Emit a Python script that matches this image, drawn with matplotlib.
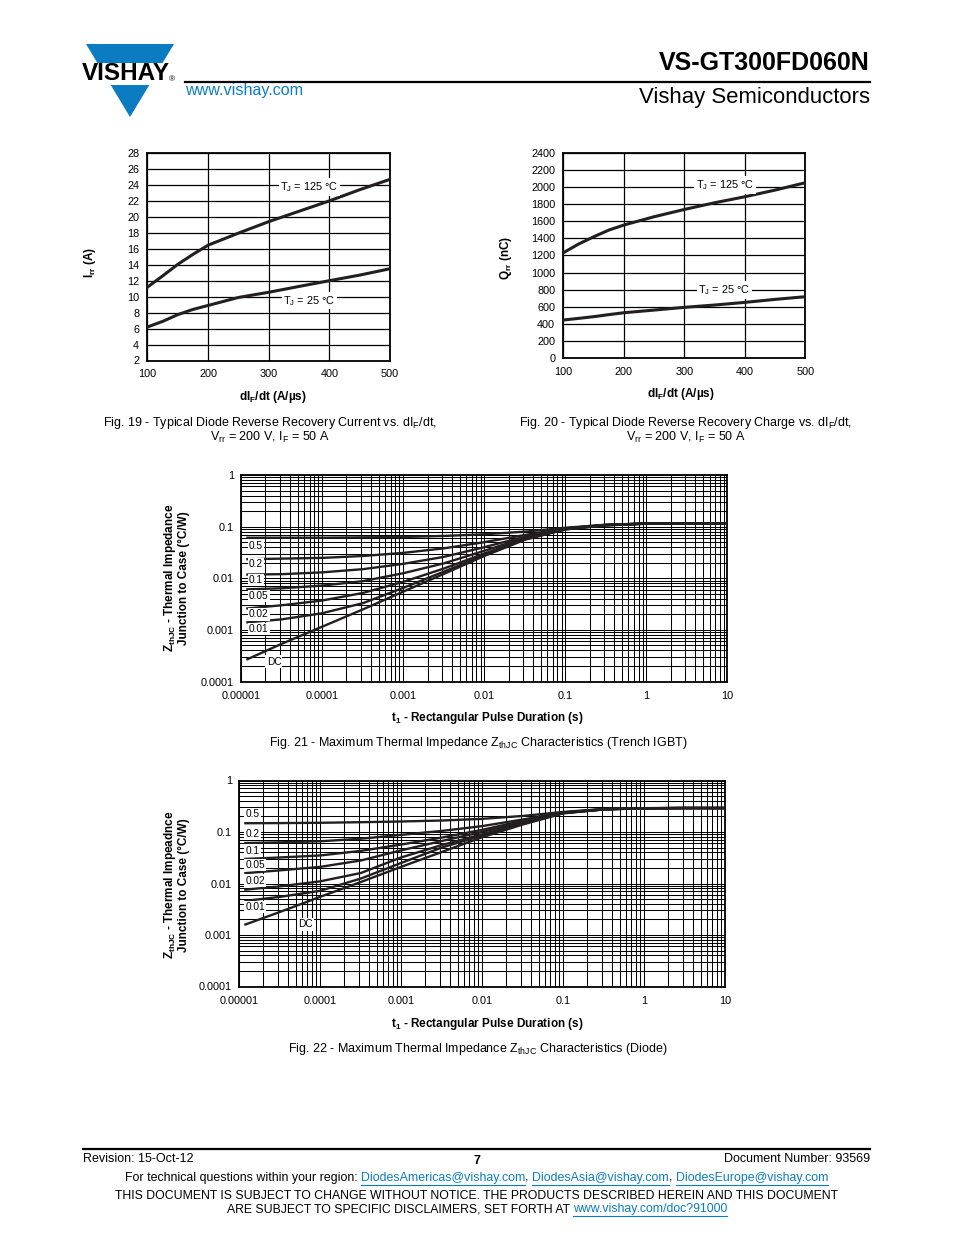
"""
Datasheet page 7 of VS-GT300FD060N: diode recovery curves and thermal impedance charts.
"""

import matplotlib
matplotlib.use('Agg')
import matplotlib.pyplot as plt
from matplotlib.patches import Polygon, Rectangle
from matplotlib.ticker import LogLocator, NullFormatter

plt.rcParams['font.family'] = ['Liberation Sans', 'DejaVu Sans']
plt.rcParams['mathtext.fontset'] = 'custom'
plt.rcParams['mathtext.rm'] = 'Liberation Sans'
plt.rcParams['mathtext.it'] = 'Liberation Sans:italic'
plt.rcParams['mathtext.bf'] = 'Liberation Sans:bold'

# ---- data read from the page ----
# Fig. 19 / Fig. 20 : dIF/dt in A/us
didt = [100, 125, 150, 175, 200, 250, 300, 350, 400, 450, 500]
irr_125 = [11.2, 12.6, 14.05, 15.3, 16.45, 17.96, 19.4, 20.7, 22.0, 23.4, 24.7]
irr_25 = [6.2, 6.9, 7.75, 8.4, 8.9, 9.9, 10.55, 11.28, 12.0, 12.7, 13.5]
qrr_125 = [1233, 1334, 1419, 1497, 1556, 1653, 1738, 1816, 1886, 1964, 2050]
qrr_25 = [447, 466, 486, 510, 532, 563, 595, 622, 653, 688, 719]
irr_ticks = list(range(2, 29, 2))
qrr_ticks = list(range(0, 2401, 200))
didt_ticks = [100, 200, 300, 400, 500]

# Fig. 21 / Fig. 22 : pulse duration (s) and Zth (degC/W)
t_pulse = [1.2e-5, 3.2e-5, 1e-4, 3.2e-4, 1e-3, 3.2e-3, 1e-2, 3.2e-2, 0.1, 0.32, 1, 3.2, 10]
duty_labels = ['0.5', '0.2', '0.1', '0.05', '0.02', '0.01', 'DC']

z_igbt_05 = [0.061, 0.061, 0.061, 0.062, 0.063, 0.066, 0.071, 0.080, 0.095, 0.109, 0.115, 0.116, 0.116]
z_igbt_02 = [0.0234, 0.024, 0.0248, 0.027, 0.031, 0.038, 0.050, 0.069, 0.093, 0.108, 0.115, 0.116, 0.116]
z_igbt_01 = [0.0118, 0.012, 0.013, 0.015, 0.019, 0.026, 0.040, 0.064, 0.092, 0.108, 0.115, 0.116, 0.116]
z_igbt_005 = [0.0061, 0.0064, 0.0072, 0.0088, 0.0125, 0.0195, 0.034, 0.061, 0.091, 0.107, 0.115, 0.116, 0.116]
z_igbt_002 = [0.0026, 0.0030, 0.0037, 0.0052, 0.0085, 0.0155, 0.030, 0.058, 0.090, 0.107, 0.114, 0.116, 0.116]
z_igbt_001 = [0.0014, 0.0016, 0.0021, 0.0033, 0.0065, 0.0135, 0.028, 0.057, 0.089, 0.106, 0.114, 0.116, 0.116]
z_igbt_dc = [0.00027, 0.00054, 0.00115, 0.0025, 0.0055, 0.0122, 0.027, 0.056, 0.088, 0.106, 0.114, 0.116, 0.116]

z_diode_05 = [0.148, 0.149, 0.151, 0.155, 0.160, 0.167, 0.180, 0.205, 0.245, 0.280, 0.290, 0.292, 0.292]
z_diode_02 = [0.061, 0.063, 0.066, 0.074, 0.088, 0.105, 0.130, 0.175, 0.240, 0.278, 0.290, 0.292, 0.292]
z_diode_01 = [0.030, 0.032, 0.035, 0.043, 0.057, 0.078, 0.110, 0.165, 0.237, 0.277, 0.290, 0.292, 0.292]
z_diode_005 = [0.0159, 0.018, 0.021, 0.028, 0.044, 0.067, 0.100, 0.158, 0.235, 0.276, 0.289, 0.292, 0.292]
z_diode_002 = [0.0076, 0.0088, 0.011, 0.016, 0.032, 0.056, 0.090, 0.150, 0.234, 0.276, 0.289, 0.292, 0.292]
z_diode_001 = [0.0046, 0.0055, 0.0072, 0.0125, 0.025, 0.050, 0.085, 0.145, 0.232, 0.275, 0.289, 0.292, 0.292]
z_diode_dc = [0.0016, 0.0028, 0.0055, 0.0107, 0.021, 0.041, 0.079, 0.140, 0.230, 0.274, 0.288, 0.292, 0.292]

t_ticks = [1e-5, 1e-4, 1e-3, 1e-2, 1e-1, 1, 10]
t_ticklabels = ['0.00001', '0.0001', '0.001', '0.01', '0.1', '1', '10']
z_ticks = [1e-4, 1e-3, 1e-2, 1e-1, 1]
z_ticklabels = ['0.0001', '0.001', '0.01', '0.1', '1']

# ---- page layout ----
W, H = 954, 1235
BLUE = '#0b7cc1'
INK = '#231f20'
fig = plt.figure(figsize=(W / 100, H / 100), dpi=100)
fig.patch.set_facecolor('white')

# full page overlay in pixel coordinates for header/footer/captions
bg = fig.add_axes([0, 0, 1, 1])
bg.set_xlim(0, W)
bg.set_ylim(H, 0)
bg.axis('off')


def px_axes(x0, y0, x1, y1):
    return fig.add_axes([x0 / W, 1 - y1 / H, (x1 - x0) / W, (y1 - y0) / H])


def text_run(y, pieces, cx, size):
    # pieces: (text, is_link, add_space_after)
    r = fig.canvas.get_renderer()
    sp = 0.278 * size * 100 / 72
    objs = []
    for s, link, gap in pieces:
        t = bg.text(0, y, s, fontsize=size, color=BLUE if link else 'black',
                    ha='left', va='center')
        objs.append((t, link, gap))
    widths = [t.get_window_extent(r).width for t, _, _ in objs]
    total = sum(widths) + sp * sum(1 for _, _, g in objs if g)
    x = cx - total / 2
    for (t, link, gap), w in zip(objs, widths):
        t.set_x(x)
        if link:
            bg.plot([x, x + w], [y + 6.5, y + 6.5], color=BLUE, lw=0.8)
        x += w + (sp if gap else 0)


# header
bg.add_patch(Polygon([(86, 44), (174, 44), (130, 117)], closed=True, color=BLUE, lw=0))
bg.add_patch(Rectangle((80, 63), 100, 22, color='white', lw=0))
bg.text(126, 74, 'VISHAY', fontsize=17.5, fontweight='bold', ha='center', va='center', color='black')
bg.text(172, 80, '®', fontsize=6, ha='center', va='center')
bg.plot([185, 870], [82, 82], color='black', lw=1.6)
bg.text(870, 63, 'VS-GT300FD060N', fontsize=18, fontweight='bold', ha='right', va='center')
bg.text(185, 91, 'www.vishay.com', fontsize=11.6, color=BLUE, ha='left', va='center')
bg.text(870, 98, 'Vishay Semiconductors', fontsize=15.9, ha='right', va='center')


def style_linear(ax, xt, yt):
    ax.set_xticks(xt)
    ax.set_yticks(yt)
    ax.grid(True, color='black', lw=0.9)
    ax.tick_params(length=0, labelsize=7.8, pad=6)
    for s in ax.spines.values():
        s.set_linewidth(1.3)


def tag(ax, x, y, s, size=7.8):
    ax.text(x, y, s, fontsize=size, ha='center', va='center', zorder=5,
            bbox=dict(boxstyle='square,pad=0.15', fc='white', ec='none'))


# Fig. 19
ax19 = px_axes(147.5, 153, 390, 360.5)
ax19.plot(didt, irr_125, color=INK, lw=2.2, zorder=4)
ax19.plot(didt, irr_25, color=INK, lw=2.2, zorder=4)
ax19.set_xlim(100, 500)
ax19.set_ylim(2, 28)
style_linear(ax19, didt_ticks, irr_ticks)
tag(ax19, 367, 23.74, r'T$_\mathregular{J}$ = 125 °C')
tag(ax19, 367, 9.46, r'T$_\mathregular{J}$ = 25 °C')
bg.text(90, 262, r'I$_\mathbf{rr}$ (A)', fontsize=8.5, fontweight='bold', rotation=90, ha='center', va='center')
bg.text(273, 397, r'dI$_\mathbf{F}$/dt (A/µs)', fontsize=8.5, fontweight='bold', ha='center', va='center')
bg.text(270, 423, r'Fig. 19 - Typical Diode Reverse Recovery Current vs. dI$_\mathregular{F}$/dt,', fontsize=9, ha='center', va='center')
bg.text(270, 437, r'V$_\mathregular{rr}$ = 200 V, I$_\mathregular{F}$ = 50 A', fontsize=9, ha='center', va='center')

# Fig. 20
ax20 = px_axes(563.5, 152.7, 805.5, 358.3)
ax20.plot(didt, qrr_125, color=INK, lw=2.2, zorder=4)
ax20.plot(didt, qrr_25, color=INK, lw=2.2, zorder=4)
ax20.set_xlim(100, 500)
ax20.set_ylim(0, 2400)
style_linear(ax20, didt_ticks, qrr_ticks)
tag(ax20, 367, 2023, r'T$_\mathregular{J}$ = 125 °C')
tag(ax20, 366, 797, r'T$_\mathregular{J}$ = 25 °C')
bg.text(506, 258, r'Q$_\mathbf{rr}$ (nC)', fontsize=8.5, fontweight='bold', rotation=90, ha='center', va='center')
bg.text(681, 394, r'dI$_\mathbf{F}$/dt (A/µs)', fontsize=8.5, fontweight='bold', ha='center', va='center')
bg.text(686, 423, r'Fig. 20 - Typical Diode Reverse Recovery Charge vs. dI$_\mathregular{F}$/dt,', fontsize=9, ha='center', va='center')
bg.text(686, 437, r'V$_\mathregular{rr}$ = 200 V, I$_\mathregular{F}$ = 50 A', fontsize=9, ha='center', va='center')


def thermal(ax, curves, label_pos):
    for z in curves:
        ax.plot(t_pulse, z, color=INK, lw=1.7, zorder=4)
    ax.set_xscale('log')
    ax.set_yscale('log')
    ax.set_xlim(1e-5, 10)
    ax.set_ylim(1e-4, 1)
    ax.xaxis.set_major_locator(LogLocator(base=10, numticks=20))
    ax.xaxis.set_minor_locator(LogLocator(base=10, subs=range(2, 10), numticks=20))
    ax.yaxis.set_minor_locator(LogLocator(base=10, subs=range(2, 10), numticks=20))
    ax.xaxis.set_minor_formatter(NullFormatter())
    ax.yaxis.set_minor_formatter(NullFormatter())
    ax.set_xticks(t_ticks)
    ax.set_xticklabels(t_ticklabels)
    ax.set_yticks(z_ticks)
    ax.set_yticklabels(z_ticklabels)
    ax.grid(True, which='both', color='black', lw=0.75)
    ax.tick_params(which='both', length=0, labelsize=7.8)
    ax.tick_params(axis='x', pad=7)
    ax.tick_params(axis='y', pad=5)
    for s in ax.spines.values():
        s.set_linewidth(1.3)
    for s, (x, y, ha) in zip(duty_labels, label_pos):
        ax.text(x, y, s, fontsize=7.3, ha=ha, va='center', zorder=5,
                bbox=dict(boxstyle='square,pad=0.12', fc='white', ec='none'))


# Fig. 21
ax21 = px_axes(241, 475, 727.5, 681.5)
thermal(ax21, [z_igbt_05, z_igbt_02, z_igbt_01, z_igbt_005, z_igbt_002, z_igbt_001, z_igbt_dc],
        [(1.25e-5, 0.0424, 'left'), (1.25e-5, 0.0187, 'left'), (1.25e-5, 0.00914, 'left'),
         (1.25e-5, 0.00453, 'left'), (1.25e-5, 0.0020, 'left'), (1.25e-5, 0.00105, 'left'),
         (2.55e-5, 0.000244, 'center')])
bg.text(176, 578, 'Z$_\\mathbf{thJC}$ - Thermal Impedance\nJunction to Case (°C/W)', fontsize=8.5,
        fontweight='bold', rotation=90, ha='center', va='center', multialignment='center', linespacing=1.05)
bg.text(487, 718, r't$_\mathbf{1}$ - Rectangular Pulse Duration (s)', fontsize=8.5, fontweight='bold', ha='center', va='center')
bg.text(478, 743, r'Fig. 21 - Maximum Thermal Impedance Z$_\mathregular{thJC}$ Characteristics (Trench IGBT)', fontsize=9, ha='center', va='center')

# Fig. 22
ax22 = px_axes(239, 780.5, 725, 986.5)
thermal(ax22, [z_diode_05, z_diode_02, z_diode_01, z_diode_005, z_diode_002, z_diode_001, z_diode_dc],
        [(1.2e-5, 0.2256, 'left'), (1.2e-5, 0.0923, 'left'), (1.2e-5, 0.0437, 'left'),
         (1.2e-5, 0.0231, 'left'), (1.2e-5, 0.01143, 'left'), (1.2e-5, 0.00347, 'left'),
         (6.65e-5, 0.0016, 'center')])
bg.text(176, 885, 'Z$_\\mathbf{thJC}$ - Thermal Impeadnce\nJunction to Case (°C/W)', fontsize=8.5,
        fontweight='bold', rotation=90, ha='center', va='center', multialignment='center', linespacing=1.05)
bg.text(487, 1024, r't$_\mathbf{1}$ - Rectangular Pulse Duration (s)', fontsize=8.5, fontweight='bold', ha='center', va='center')
bg.text(478, 1049, r'Fig. 22 - Maximum Thermal Impedance Z$_\mathregular{thJC}$ Characteristics (Diode)', fontsize=9, ha='center', va='center')

# footer
bg.plot([83, 870], [1149, 1149], color='black', lw=1.6)
bg.text(83, 1159, 'Revision: 15-Oct-12', fontsize=9, ha='left', va='center')
bg.text(477, 1161, '7', fontsize=9, fontweight='bold', ha='center', va='center')
bg.text(870, 1159, 'Document Number: 93569', fontsize=9, ha='right', va='center')
text_run(1178, [('For technical questions within your region:', False, True),
                ('DiodesAmericas@vishay.com', True, False), (',', False, True),
                ('DiodesAsia@vishay.com', True, False), (',', False, True),
                ('DiodesEurope@vishay.com', True, False)], 476.5, 8.95)
bg.text(477, 1196, 'THIS DOCUMENT IS SUBJECT TO CHANGE WITHOUT NOTICE. THE PRODUCTS DESCRIBED HEREIN AND THIS DOCUMENT',
        fontsize=8.8, ha='center', va='center')
text_run(1209, [('ARE SUBJECT TO SPECIFIC DISCLAIMERS, SET FORTH AT', False, True),
                ('www.vishay.com/doc?91000', True, False)], 477, 8.8)

fig.savefig('out.png', dpi=100)
